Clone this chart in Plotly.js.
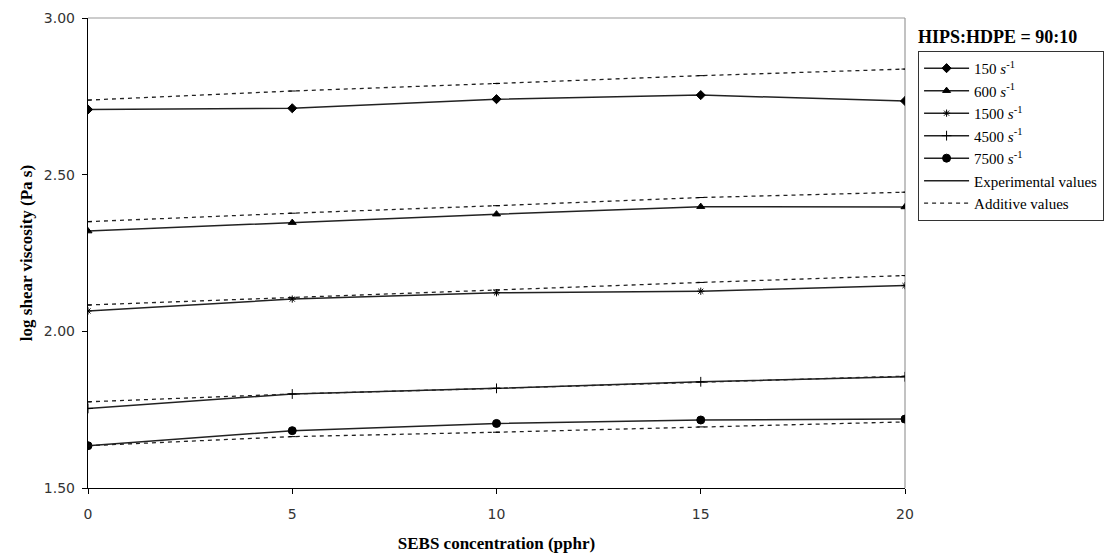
<!DOCTYPE html>
<html>
<head>
<meta charset="utf-8">
<script src="https://cdn.plot.ly/plotly-3.0.1.min.js"></script>
<style>body{margin:0;background:#fff}#chart{width:1106px;height:560px}</style>
</head>
<body>
<div id="chart"></div>
<script>
// SEBS concentration (pphr)
const sebs = [0, 5, 10, 15, 20];
const rateLabels = ["150 <i>s</i><sup>-1</sup>", "600 <i>s</i><sup>-1</sup>", "1500 <i>s</i><sup>-1</sup>", "4500 <i>s</i><sup>-1</sup>", "7500 <i>s</i><sup>-1</sup>"];
// Experimental values (log shear viscosity, Pa s)
const exp150  = [2.708, 2.712, 2.741, 2.754, 2.735];
const exp600  = [2.320, 2.347, 2.374, 2.398, 2.397];
const exp1500 = [2.065, 2.103, 2.123, 2.128, 2.146];
const exp4500 = [1.754, 1.800, 1.818, 1.839, 1.855];
const exp7500 = [1.635, 1.683, 1.706, 1.717, 1.720];
// Additive values
const add150  = [2.738, 2.767, 2.791, 2.816, 2.837];
const add600  = [2.350, 2.377, 2.401, 2.427, 2.444];
const add1500 = [2.084, 2.107, 2.132, 2.156, 2.178];
const add4500 = [1.775, 1.800, 1.818, 1.838, 1.857];
const add7500 = [1.635, 1.664, 1.678, 1.695, 1.711];
const yTicks = [1.5, 2.0, 2.5, 3.0];
const xTicks = [0, 5, 10, 15, 20];

const expSets = [exp150, exp600, exp1500, exp4500, exp7500];
const addSets = [add150, add600, add1500, add4500, add7500];
const symbols = ["diamond", "triangle-up", "asterisk-open", "cross-thin-open", "circle"];
const sizes = [7, 7, 6, 7, 8];
const lineCol = "#222";

const traces = [];
expSets.forEach((ys, i) => {
  traces.push({
    x: sebs, y: ys, type: "scatter", mode: "lines+markers", name: rateLabels[i],
    line: {color: lineCol, width: 1.5},
    marker: {symbol: symbols[i], size: sizes[i], color: "#000", line: {color: "#000", width: 1}}
  });
});
addSets.forEach((ys, i) => {
  traces.push({
    x: sebs, y: ys, type: "scatter", mode: "lines+markers", showlegend: false,
    line: {color: lineCol, width: 1.3, dash: "4px,4px"},
    marker: {symbol: "line-ew-open", size: 5, color: "#000", line: {color: "#000", width: 1}}
  });
});
traces.push({x: [null], y: [null], type: "scatter", mode: "lines", name: "Experimental values",
  line: {color: lineCol, width: 1.5}});
traces.push({x: [null], y: [null], type: "scatter", mode: "lines", name: "Additive values",
  line: {color: lineCol, width: 1.3, dash: "4px,4px"}});

const layout = {
  width: 1106, height: 560,
  margin: {l: 88, r: 201, t: 18, b: 72, autoexpand: false},
  paper_bgcolor: "#fff", plot_bgcolor: "#fff",
  showlegend: true,
  xaxis: {
    range: [0, 20], tickvals: xTicks, ticktext: xTicks.map(String),
    showgrid: false, zeroline: false, showline: true, linecolor: "#000", linewidth: 1.2,
    ticks: "outside", ticklen: 5, tickcolor: "#000", ticklabelstandoff: 8,
    tickfont: {family: "DejaVu Sans", size: 14, color: "#333"},
    title: {text: "<b>SEBS concentration (pphr)</b>", font: {family: "Liberation Serif", size: 17, color: "#000"}, standoff: 16}
  },
  yaxis: {
    range: [1.5, 3.0], tickvals: yTicks, ticktext: yTicks.map(v => v.toFixed(2)),
    showgrid: false, zeroline: false, showline: true, linecolor: "#000", linewidth: 1.2,
    ticks: "outside", ticklen: 5, tickcolor: "#000", ticklabelstandoff: 4,
    tickfont: {family: "DejaVu Sans", size: 14, color: "#333"},
    title: {text: "<b>log shear viscosity (Pa s)</b>", font: {family: "Liberation Serif", size: 17, color: "#000"}, standoff: 6}
  },
  shapes: [
    {type: "line", xref: "paper", yref: "paper", x0: 0, x1: 1, y0: 1, y1: 1, line: {color: "#999", width: 1.2}, layer: "below"},
    {type: "line", xref: "paper", yref: "paper", x0: 1, x1: 1, y0: 0, y1: 1, line: {color: "#999", width: 1.2}, layer: "below"}
  ],
  legend: {
    x: 1.016, y: 0.93, xanchor: "left", yanchor: "top",
    bordercolor: "#333", borderwidth: 1, bgcolor: "#fff",
    font: {family: "Liberation Serif", size: 15, color: "#000"},
    tracegroupgap: 0, itemwidth: 45
  },
  annotations: [
    {xref: "paper", yref: "paper", x: 1.014, y: 0.96, xanchor: "left", yanchor: "middle",
     text: "<b>HIPS:HDPE = 90:10</b>", showarrow: false,
     font: {family: "Liberation Serif", size: 18, color: "#000"}}
  ]
};

Plotly.newPlot("chart", traces, layout, {displayModeBar: false, staticPlot: true});
</script>
</body>
</html>
